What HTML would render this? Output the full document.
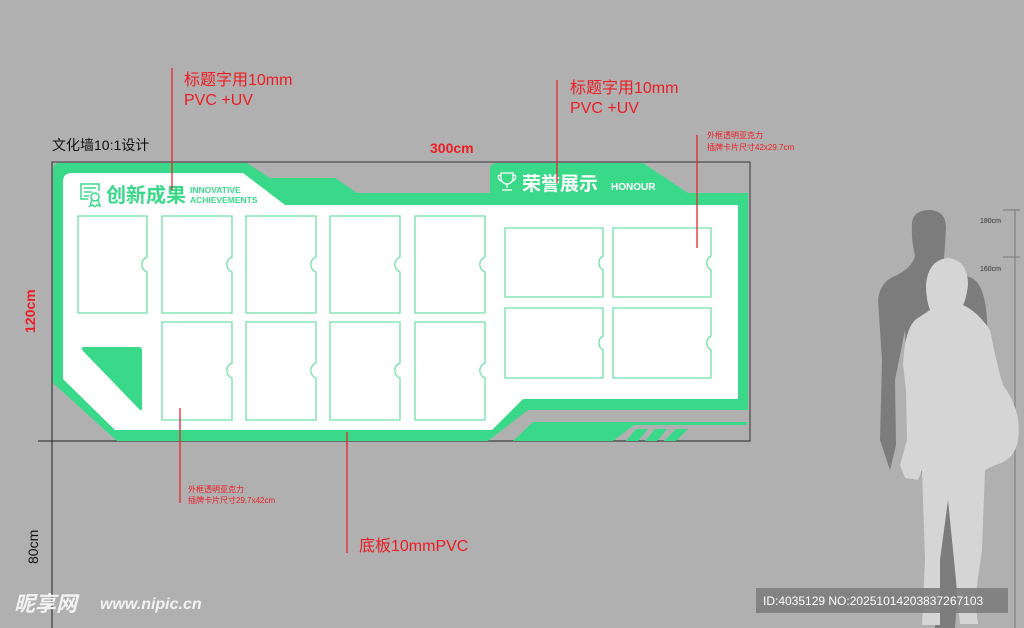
<!DOCTYPE html>
<html><head><meta charset="utf-8"><style>
html,body{margin:0;padding:0;background:#b0b0b0;}
svg{display:block}
text{font-family:"Liberation Sans","Noto Sans CJK SC",sans-serif;}
</style></head><body>
<svg width="1024" height="628" viewBox="0 0 1024 628" xmlns="http://www.w3.org/2000/svg">
<rect width="1024" height="628" fill="#b0b0b0"/>
<rect x="52" y="162" width="698" height="279" fill="none" stroke="#333" stroke-width="1"/>
<line x1="38" y1="441" x2="750" y2="441" stroke="#222" stroke-width="1"/>
<line x1="52" y1="162" x2="52" y2="628" stroke="#222" stroke-width="1"/>
<path d="M60,163 L247,163 L270,178 L335,178 L357,193 L490,193 L490,170 Q490,163 497,163 L643,163 L688,193 L748,193 L748,410 L528,410 L488,441 L117,441 L53,383 L53,170 Q53,163 60,163 Z" fill="#3ad98a"/>
<path d="M72,173 L243,173 L285,205 L738,205 L738,399 L523,399 L492,430 L115,430 L63,379 L63,182 Q63,173 72,173 Z" fill="#fff"/>
<path d="M513,441 L533,422 L748,422 L746,425 L634,425 L613,441 Z" fill="#3ad98a"/>
<path d="M626,441 L638,441 L648,429 L636,429 Z M645,441 L657,441 L667,429 L655,429 Z M664,441 L676,441 L688,429 L676,429 Z" fill="#3ad98a"/>
<path d="M84,347 L139,347 Q142,347 142,350 L142,408 Q142,412 139,409 L83,351 Q80,347 84,347 Z" fill="#3ad98a"/>
<g fill="#fff" stroke="#72e0a8" stroke-width="1.3">
<path d="M78,216 H147 V257 A8,8 0 0 0 147,272 V313 H78 Z"/>
<path d="M162,216 H232 V257 A8,8 0 0 0 232,272 V313 H162 Z"/>
<path d="M246,216 H316 V257 A8,8 0 0 0 316,272 V313 H246 Z"/>
<path d="M330,216 H400 V257 A8,8 0 0 0 400,272 V313 H330 Z"/>
<path d="M415,216 H485 V257 A8,8 0 0 0 485,272 V313 H415 Z"/>
<path d="M162,322 H232 V363 A8,8 0 0 0 232,378 V420 H162 Z"/>
<path d="M246,322 H316 V363 A8,8 0 0 0 316,378 V420 H246 Z"/>
<path d="M330,322 H400 V363 A8,8 0 0 0 400,378 V420 H330 Z"/>
<path d="M415,322 H485 V363 A8,8 0 0 0 485,378 V420 H415 Z"/>
<path d="M505,228 H603 V256 A8,8 0 0 0 603,270 V297 H505 Z"/>
<path d="M613,228 H711 V256 A8,8 0 0 0 711,270 V297 H613 Z"/>
<path d="M505,308 H603 V336 A8,8 0 0 0 603,350 V378 H505 Z"/>
<path d="M613,308 H711 V336 A8,8 0 0 0 711,350 V378 H613 Z"/>
</g>
<g fill="none" stroke="#3ad98a" stroke-width="1.5">
<path d="M88,199 H81 V184 H99 V191"/>
<line x1="84" y1="188" x2="96" y2="188"/><line x1="84" y1="192" x2="92" y2="192"/><line x1="84" y1="196" x2="89" y2="196"/>
<circle cx="95" cy="197" r="4"/>
<path d="M92,200 L90,206 L93,205 L95,207 M98,200 L100,206 L97,205 L95,207"/>
</g>
<text x="106" y="202" font-size="20" font-weight="bold" fill="#3ad98a">创新成果</text>
<text x="190" y="193" font-size="8.5" font-weight="bold" fill="#3ad98a">INNOVATIVE</text>
<text x="190" y="203" font-size="8.5" font-weight="bold" fill="#3ad98a">ACHIEVEMENTS</text>
<g fill="none" stroke="#fff" stroke-width="1.3">
<path d="M501,173 H513 V178 A6,6 0 0 1 501,178 Z"/>
<path d="M501,175 Q497,175 499,179 Q500,181 502,181 M513,175 Q517,175 515,179 Q514,181 512,181"/>
<line x1="507" y1="184" x2="507" y2="188"/><path d="M502,190 H512"/>
</g>
<text x="522" y="190" font-size="19" font-weight="bold" fill="#fff">荣誉展示</text>
<text x="611" y="190" font-size="10" font-weight="bold" fill="#fff">HONOUR</text>
<g stroke="#e8262a" stroke-width="1.3">
<line x1="172" y1="68" x2="172" y2="190"/>
<line x1="557" y1="80" x2="557" y2="183"/>
<line x1="697" y1="135" x2="697" y2="248"/>
<line x1="180" y1="408" x2="180" y2="503"/>
<line x1="347" y1="432" x2="347" y2="553"/>
</g>
<g fill="#ee1c24">
<text x="184" y="85" font-size="16">标题字用10mm</text>
<text x="184" y="105" font-size="16">PVC +UV</text>
<text x="570" y="93" font-size="16">标题字用10mm</text>
<text x="570" y="113" font-size="16">PVC +UV</text>
<text x="707" y="138" font-size="8">外框透明亚克力</text>
<text x="707" y="150" font-size="8">插牌卡片尺寸42x29.7cm</text>
<text x="188" y="492" font-size="8">外框透明亚克力</text>
<text x="188" y="503" font-size="8">插牌卡片尺寸29.7x42cm</text>
<text x="359" y="551" font-size="16">底板10mmPVC</text>
<text x="430" y="153" font-size="14" font-weight="bold">300cm</text>
<text transform="translate(35,333) rotate(-90)" font-size="14" font-weight="bold">120cm</text>
</g>
<text x="52" y="150" font-size="14" fill="#111">文化墙10:1设计</text>
<text transform="translate(38,564) rotate(-90)" font-size="14" fill="#111">80cm</text>
<g stroke="#777" stroke-width="1"><line x1="1015" y1="210" x2="1015" y2="628"/><line x1="1003" y1="210" x2="1020" y2="210"/><line x1="1003" y1="257" x2="1020" y2="257"/></g>
<text x="980" y="223" font-size="7" fill="#333">180cm</text>
<text x="980" y="271" font-size="7" fill="#333">160cm</text>
<path d="M912,222 Q914,210 930,210 Q946,211 946,228 Q945,246 944,258 Q950,270 972,278 Q985,285 987,320 L990,370 L987,395 L978,396 L975,340 L970,380 L968,440 L960,560 L955,628 L935,628 L935,560 L925,470 L912,480 L908,420 L905,330 L895,380 L896,445 L890,470 L880,440 L882,360 L878,300 Q880,282 895,276 Q912,268 915,256 Q911,240 912,222 Z" fill="#7c7c7c"/>
<path d="M926,285 Q928,260 948,258 Q968,260 968,285 Q966,300 963,305 Q978,312 990,330 Q998,370 1003,385 Q1022,410 1018,440 Q1015,460 995,465 L985,470 L982,550 L975,600 L978,624 L960,624 L955,570 L948,500 L940,560 L940,625 L922,625 L925,560 L922,470 L918,480 L905,478 L900,465 L907,440 L906,390 L903,365 Q905,325 918,318 L930,310 Q926,300 926,285 Z" fill="#d5d5d5"/>
<text x="14" y="611" font-size="21" font-weight="bold" font-style="italic" fill="#f2f2f2">昵享网</text>
<text x="100" y="609" font-size="16" font-weight="bold" font-style="italic" fill="#f2f2f2">www.nipic.cn</text>
<rect x="756" y="588" width="252" height="25" fill="#7d7d7d" opacity="0.9"/>
<text x="763" y="605" font-size="12" fill="#fff">ID:4035129 NO:20251014203837267103</text>
</svg>
</body></html>
